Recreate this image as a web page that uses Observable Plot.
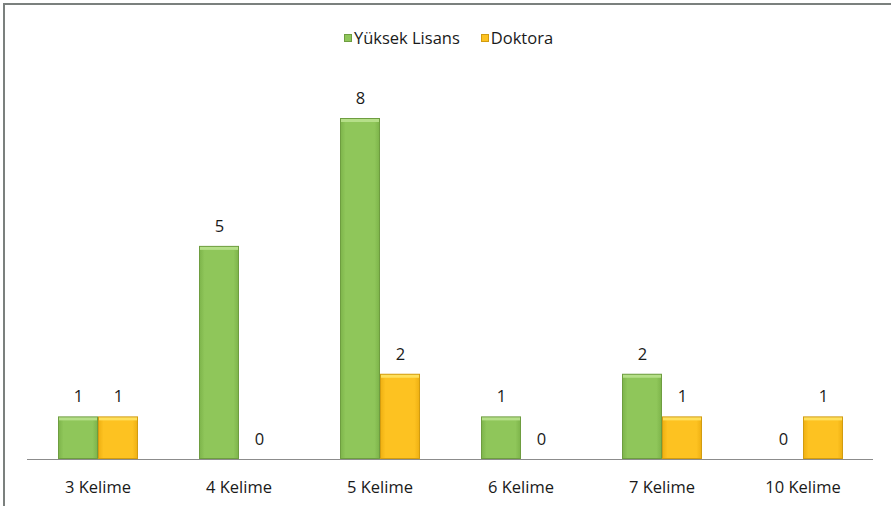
<!DOCTYPE html>
<html>
<head>
<meta charset="utf-8">
<script src="https://cdn.jsdelivr.net/npm/d3@7"></script>
<script src="https://cdn.jsdelivr.net/npm/@observablehq/plot@0.6"></script>
<style>
  html, body { margin: 0; padding: 0; background: #fff; }
  #wrap { position: relative; width: 891px; height: 506px; overflow: hidden; font-family: "Open Sans", "Noto Sans", sans-serif; }
  #frame { position: absolute; left: 3px; top: 3px; width: 900px; height: 600px; border-top: 2px solid #7b807e; border-left: 2px solid #7b807e; box-sizing: border-box; pointer-events: none; }
  #legend { position: absolute; top: 26px; left: 0; width: 891px; display: flex; justify-content: center; gap: 21px; font-size: 16.5px; color: #1a1a1a; padding-left: 6px; box-sizing: border-box; }
  #legend span.item { display: inline-flex; align-items: center; gap: 2px; }
  #legend span.sw { display: inline-block; width: 8px; height: 8px; box-sizing: border-box; }
  svg { display: block; }
</style>
</head>
<body>
<div id="wrap">
  <div id="chart"></div>
  <div id="legend"></div>
  <div id="frame"></div>
</div>
<script>
const categories = ["3 Kelime", "4 Kelime", "5 Kelime", "6 Kelime", "7 Kelime", "10 Kelime"];
const series = ["Yüksek Lisans", "Doktora"];
const yuksekLisans = [1, 5, 8, 1, 2, 0];
const doktora = [1, 0, 2, 0, 1, 1];
const colors = {"Yüksek Lisans": "#8fc65a", "Doktora": "#fdc221"};
const highlights = {"Yüksek Lisans": "#b5df88", "Doktora": "#ffe05c"};
const borders = {"Yüksek Lisans": "#6e9d40", "Doktora": "#d29c10"};
const gradIds = {"Yüksek Lisans": "url(#gGreen)", "Doktora": "url(#gYellow)"};

const data = [];
categories.forEach((c, i) => {
  data.push({category: c, series: series[0], value: yuksekLisans[i]});
  data.push({category: c, series: series[1], value: doktora[i]});
});
const nonzero = data.filter(d => d.value > 0);

const chart = Plot.plot({
  width: 891,
  height: 506,
  marginLeft: 25,
  marginRight: 16,
  marginTop: 118,
  marginBottom: 47,
  style: {fontFamily: "'Open Sans', 'Noto Sans', sans-serif", fontSize: "16.5px", color: "#1a1a1a", background: "transparent"},
  fx: {domain: categories, padding: 0, label: null},
  x: {domain: series, paddingInner: 0, paddingOuter: 0.72, axis: null},
  y: {domain: [0, 8], axis: null},
  marks: [
    Plot.axisFx({anchor: "bottom", tickSize: 0, tickPadding: 22, label: null, fontSize: 16.5, fill: "#1a1a1a"}),
    Plot.barY(nonzero, {fx: "category", x: "series", y: "value", fill: d => borders[d.series]}),
    Plot.barY(nonzero, {fx: "category", x: "series", y: "value", fill: d => highlights[d.series], inset: 1}),
    Plot.barY(nonzero, {fx: "category", x: "series", y: "value", fill: d => gradIds[d.series], insetLeft: 1, insetRight: 1, insetTop: 4, insetBottom: 1}),
    Plot.ruleY([0], {stroke: "#8c8c8c", strokeWidth: 1.2}),
    Plot.text(data, {fx: "category", x: "series", y: "value", text: d => String(d.value), dy: -20, fill: "#1a1a1a", fontSize: 16.5})
  ]
});

const svg = d3.select(chart);
const defs = svg.insert("defs", ":first-child");
function grad(id, edge, mid) {
  const g = defs.append("linearGradient").attr("id", id).attr("x1", "0").attr("x2", "1").attr("y1", "0").attr("y2", "0");
  g.append("stop").attr("offset", "0%").attr("stop-color", edge);
  g.append("stop").attr("offset", "12%").attr("stop-color", mid);
  g.append("stop").attr("offset", "88%").attr("stop-color", mid);
  g.append("stop").attr("offset", "100%").attr("stop-color", edge);
}
grad("gGreen", "#7fb64c", colors["Yüksek Lisans"]);
grad("gYellow", "#f0b214", colors["Doktora"]);

document.getElementById("chart").appendChild(chart);

const legend = document.getElementById("legend");
series.forEach(s => {
  const item = document.createElement("span");
  item.className = "item";
  const sw = document.createElement("span");
  sw.className = "sw";
  sw.style.background = colors[s];
  sw.style.border = "1px solid " + borders[s];
  const t = document.createElement("span");
  t.textContent = s;
  item.appendChild(sw);
  item.appendChild(t);
  legend.appendChild(item);
});
</script>
</body>
</html>
